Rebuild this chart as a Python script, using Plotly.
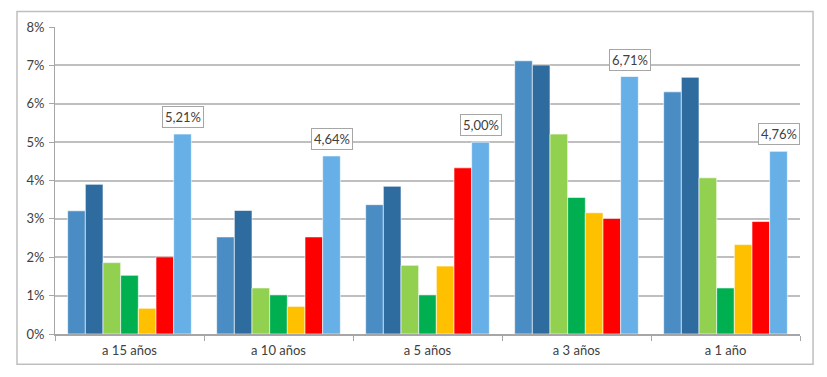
import plotly.graph_objects as go

categories = ["a 15 años", "a 10 años", "a 5 años", "a 3 años", "a 1 año"]
serie_1 = [3.21, 2.53, 3.37, 7.12, 6.31]
serie_2 = [3.90, 3.22, 3.85, 7.01, 6.69]
serie_3 = [1.86, 1.20, 1.79, 5.21, 4.07]
serie_4 = [1.53, 1.02, 1.02, 3.56, 1.20]
serie_5 = [0.67, 0.72, 1.77, 3.16, 2.33]
serie_6 = [2.01, 2.53, 4.33, 3.01, 2.93]
serie_7 = [5.21, 4.64, 5.00, 6.71, 4.76]
label_texts = ["5,21%", "4,64%", "5,00%", "6,71%", "4,76%"]

series = [serie_1, serie_2, serie_3, serie_4, serie_5, serie_6, serie_7]
colors = ["#4A8CC4", "#2E6C9F", "#92D050", "#00B050", "#FFC000", "#FF0000", "#67AFE7"]

fig = go.Figure()
for i, (vals, col) in enumerate(zip(series, colors)):
    fig.add_trace(go.Bar(
        x=categories, y=vals, name=f"s{i+1}",
        marker=dict(color=col, line=dict(color="rgba(255,255,255,0.6)", width=1)),
        showlegend=False, hoverinfo="skip",
    ))

nbars = len(series)
bargap = 0.17
group_w = 1 - bargap
bar_w = group_w / nbars
offset = -group_w / 2 + bar_w * (nbars - 1) + bar_w / 2
for i, (v, t) in enumerate(zip(serie_7, label_texts)):
    fig.add_annotation(
        x=i + offset, y=v, xref="x", yref="y", text=t, showarrow=False,
        yanchor="bottom", yshift=6,
        font=dict(family="Lato, Open Sans, sans-serif", size=13, color="#404040"),
        bgcolor="white", bordercolor="#A6A6A6", borderwidth=1, borderpad=2,
    )

# outer frame
fig.add_shape(type="rect", xref="paper", yref="paper",
              x0=-0.051, x1=1.0175, y0=-0.0984, y1=1.0508,
              line=dict(color="#BFBFBF", width=1.5), fillcolor="rgba(0,0,0,0)", layer="below")

fig.update_layout(
    width=819, height=369,
    margin=dict(l=47, r=27, t=11, b=43),
    paper_bgcolor="white", plot_bgcolor="white",
    barmode="group", bargap=bargap, bargroupgap=0,
    font=dict(family="Lato, Open Sans, sans-serif", size=13, color="#404040"),
)
fig.update_xaxes(
    type="category", showline=True, linecolor="#A6A6A6", linewidth=1.5,
    ticks="outside", tickson="boundaries", ticklen=5, tickcolor="#A6A6A6",
    tickfont=dict(size=13, color="#404040"), showgrid=False, ticklabelstandoff=4,
)
fig.update_yaxes(
    range=[0, 8], dtick=1, ticksuffix="%", showgrid=True, gridcolor="#BFBFBF", gridwidth=1.5,
    showline=True, linecolor="#A6A6A6", linewidth=1, ticks="outside", ticklen=5,
    tickcolor="#A6A6A6", tickfont=dict(size=13, color="#404040"), zeroline=False,
    ticklabelstandoff=2,
)

fig.write_html("out.html")
